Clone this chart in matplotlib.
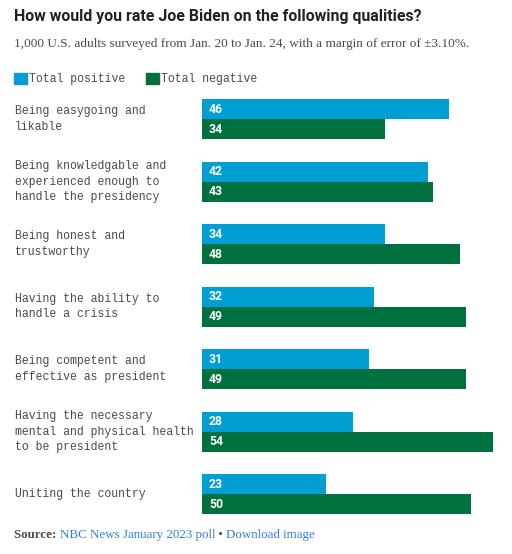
import matplotlib.pyplot as plt
import matplotlib.transforms as mtransforms
from matplotlib.patches import Rectangle

qualities = [
    "Being easygoing and\nlikable",
    "Being knowledgable and\nexperienced enough to\nhandle the presidency",
    "Being honest and\ntrustworthy",
    "Having the ability to\nhandle a crisis",
    "Being competent and\neffective as president",
    "Having the necessary\nmental and physical health\nto be president",
    "Uniting the country",
]
positive = [46, 42, 34, 32, 31, 28, 23]
negative = [34, 43, 48, 49, 49, 54, 50]

blue = '#009fd3'
green = '#00703f'
grey = '#4a4a4a'
link = '#2f7fe0'
mono = 'Liberation Mono'
serif = 'Liberation Serif'

W, H = 512, 554
fig = plt.figure(figsize=(W / 100, H / 100), dpi=100)

def fx(px):
    return px / W

def fy(py):
    return 1 - py / H

# bars area in pixels
left, right = 202, 492.5
top, bottom = 87.75, 525.25
ax = fig.add_axes([fx(left), fy(bottom), fx(right - left), (bottom - top) / H])

n = len(qualities)
ys = list(range(n))
h = 0.32
ax.barh([y - h / 2 for y in ys], positive, height=h, color=blue)
ax.barh([y + h / 2 for y in ys], negative, height=h, color=green)

for y, p, q in zip(ys, positive, negative):
    for val, yy in ((p, y - h / 2), (q, y + h / 2)):
        ax.annotate(str(val), (0, yy), xytext=(5, 0), textcoords='offset points',
                    va='center', ha='left', color='white', fontsize=8.8,
                    fontweight='bold', family='Roboto')

ax.set_xlim(0, max(negative))
ax.set_ylim(n - 0.5, -0.5)
ax.axis('off')

trans = mtransforms.blended_transform_factory(fig.transFigure, ax.transData)
for y, lab in zip(ys, qualities):
    ax.text(fx(15), y, lab, transform=trans, va='center', ha='left',
            family=mono, fontsize=8.3, color=grey, linespacing=1.35,
            clip_on=False)

# title and subtitle
fig.text(fx(14), fy(17), "How would you rate Joe Biden on the following qualities?",
         family='Roboto', fontweight='bold', fontsize=11.4, color='#222222',
         va='center', ha='left')
fig.text(fx(14), fy(44),
         "1,000 U.S. adults surveyed from Jan. 20 to Jan. 24, with a margin of error of \u00b13.10%.",
         family=serif, fontsize=9.55, color=grey, va='center', ha='left')

# legend
fig.patches.append(Rectangle((fx(14), fy(84)), fx(13), 11 / H, color=blue,
                             transform=fig.transFigure, figure=fig))
fig.text(fx(29), fy(79), "Total positive", family=mono, fontsize=8.3,
         color=grey, va='center', ha='left')
fig.patches.append(Rectangle((fx(146), fy(84)), fx(13), 11 / H, color=green,
                             transform=fig.transFigure, figure=fig))
fig.text(fx(161), fy(79), "Total negative", family=mono, fontsize=8.3,
         color=grey, va='center', ha='left')

# source line
src = fig.text(fx(14), fy(535), "Source: ", family=serif, fontsize=9.4,
               fontweight='bold', color=grey, va='center', ha='left')
a1 = plt.annotate("NBC News January 2023 poll", xy=(1, 0.5), xycoords=src,
                  va='center', ha='left', family=serif, fontsize=9.4,
                  color=link, annotation_clip=False)
a2 = plt.annotate(" \u2022 ", xy=(1, 0.5), xycoords=a1, va='center', ha='left',
                  family=serif, fontsize=9.4, color=grey,
                  annotation_clip=False)
plt.annotate("Download image", xy=(1, 0.5), xycoords=a2, va='center', ha='left',
             family=serif, fontsize=9.4, color=link,
             annotation_clip=False)

fig.savefig('out.png', dpi=100)
